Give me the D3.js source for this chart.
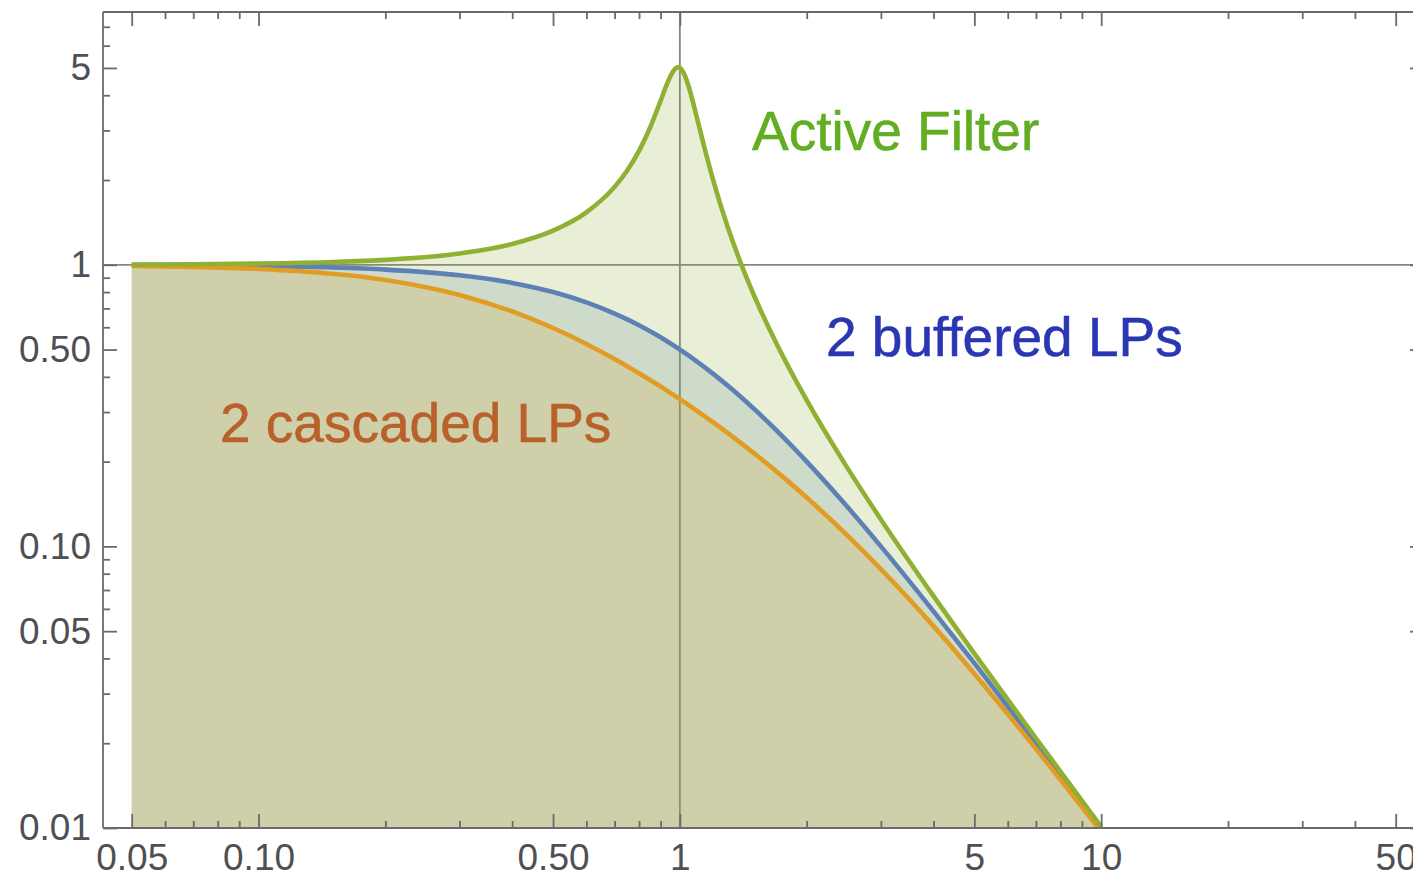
<!DOCTYPE html>
<html>
<head>
<meta charset="utf-8">
<script src="https://cdn.jsdelivr.net/npm/d3@7"></script>
<style>
  body { margin: 0; background: #fff; overflow: hidden; }
  svg { display: block; font-family: "Liberation Sans", Arial, sans-serif; }
</style>
</head>
<body>
<script>
// angular frequency (normalised) and the three gain curves
const freq = [0.05, 0.07, 0.1, 0.15, 0.2, 0.3, 0.4, 0.5, 0.6, 0.7, 0.75, 0.8, 0.85, 0.9, 0.93, 0.95,
  0.97, 0.98, 0.99, 1, 1.01, 1.02, 1.03, 1.05, 1.07, 1.1, 1.15, 1.2, 1.3, 1.4, 1.5, 1.7, 2, 2.5, 3, 4, 5, 7, 10];
const buffered = [0.9975, 0.9951, 0.9901, 0.978, 0.9615, 0.9174, 0.8621, 0.8, 0.7353, 0.6711, 0.64, 0.6098,
  0.5806, 0.5525, 0.5362, 0.5256, 0.5152, 0.5101, 0.505, 0.5, 0.495, 0.4901, 0.4852, 0.4756, 0.4662, 0.4525,
  0.4306, 0.4098, 0.3717, 0.3378, 0.3077, 0.2571, 0.2, 0.1379, 0.1, 0.0588, 0.0385, 0.02, 0.0099];
const cascaded = [0.9914, 0.9833, 0.9667, 0.9293, 0.8833, 0.7813, 0.6827, 0.5963, 0.5235, 0.4627, 0.4363, 0.4121,
  0.3899, 0.3695, 0.358, 0.3507, 0.3436, 0.3401, 0.3367, 0.3333, 0.33, 0.3268, 0.3236, 0.3173, 0.3112, 0.3024,
  0.2886, 0.2757, 0.2525, 0.2321, 0.2141, 0.1839, 0.1491, 0.1092, 0.0831, 0.0521, 0.0353, 0.0191, 0.0097];
const active = [1.0025, 1.0048, 1.0099, 1.0225, 1.0408, 1.0965, 1.1851, 1.3216, 1.5357, 1.8908, 2.1622, 2.5384,
  3.0728, 3.8208, 4.35, 4.6826, 4.931, 5.001, 5.025, 5.0, 4.926, 4.809, 4.655, 4.279, 3.869, 3.288,
  2.5245, 1.9952, 1.3562, 1.0, 0.7779, 0.5207, 0.3304, 0.1896, 0.12465, 0.06657, 0.04163, 0.02083, 0.0101];

const seriesNames = ["2 buffered LPs", "2 cascaded LPs", "Active Filter"];

// ticks
const xMajor = [0.05, 0.1, 0.5, 1, 5, 10, 50];
const xMajorLabels = ["0.05", "0.10", "0.50", "1", "5", "10", "50"];
const xMinor = [0.06, 0.07, 0.08, 0.09, 0.2, 0.3, 0.4, 0.6, 0.7, 0.8, 0.9, 2, 3, 4, 6, 7, 8, 9, 20, 30, 40];
const yMajor = [0.01, 0.05, 0.1, 0.5, 1, 5];
const yMajorLabels = ["0.01", "0.05", "0.10", "0.50", "1", "5"];
const yMinor = [0.02, 0.03, 0.04, 0.06, 0.07, 0.08, 0.09, 0.2, 0.3, 0.4, 0.6, 0.7, 0.8, 0.9, 2, 3, 4, 6, 7];

const width = 1413, height = 877;
const colors = ["#5e81b5", "#e19c24", "#8fb032"];
const labelColors = ["#2b36b3", "#b8612b", "#62ad22"];

const svg = d3.select("body").append("svg")
    .attr("width", width)
    .attr("height", height);

// frame runs 103..1424 horizontally (right edge falls off the canvas)
const frameL = 103, frameR = 1424, frameT = 12, frameB = 828;
const x = d3.scaleLog().domain([0.05, 50]).range([131.7, 1395.7]);
const y = d3.scaleLog().domain([0.01, 7.9]).range([frameB, frameT]);

svg.append("clipPath").attr("id", "plotclip")
  .append("rect")
    .attr("x", frameL).attr("y", frameT)
    .attr("width", frameR - frameL).attr("height", frameB - frameT);

const plot = svg.append("g").attr("clip-path", "url(#plotclip)");

// grid lines at 1 / 1 (under the fills)
plot.append("line")
    .attr("x1", x(1)).attr("x2", x(1))
    .attr("y1", frameT).attr("y2", frameB)
    .attr("stroke", "#868686").attr("stroke-width", 1.8);
plot.append("line")
    .attr("x1", frameL).attr("x2", frameR)
    .attr("y1", y(1)).attr("y2", y(1))
    .attr("stroke", "#868686").attr("stroke-width", 1.8);

const allSeries = [buffered, cascaded, active].map(function(vals, i) {
  return { name: seriesNames[i], color: colors[i],
           points: freq.map(function(f, j) { return [f, vals[j]]; }) };
});

const area = d3.area()
    .x(d => x(d[0]))
    .y0(y(0.01))
    .y1(d => y(d[1]))
    .curve(d3.curveMonotoneX);

const line = d3.line()
    .x(d => x(d[0]))
    .y(d => y(d[1]))
    .curve(d3.curveMonotoneX);

plot.selectAll("path.fill")
    .data(allSeries)
    .enter()
    .append("path")
    .attr("class", "fill")
    .attr("d", d => area(d.points))
    .attr("fill", d => d.color)
    .attr("fill-opacity", 0.2);

plot.selectAll("path.curve")
    .data(allSeries)
    .enter()
    .append("path")
    .attr("class", "curve")
    .attr("d", d => line(d.points))
    .attr("fill", "none")
    .attr("stroke", d => d.color)
    .attr("stroke-width", 4.6)
    .attr("stroke-linejoin", "round");

// frame with inward ticks
const frameColor = "#6b6b6b";
function styleAxis(g) {
  g.selectAll("path.domain").attr("stroke", frameColor).attr("stroke-width", 1.8);
  g.selectAll(".tick line").attr("stroke", frameColor).attr("stroke-width", 1.8);
  g.selectAll(".tick text").attr("fill", "#4f4f55").attr("font-size", 37)
    .attr("font-family", "\"Liberation Sans\", Arial, sans-serif");
}

const xMajFmt = v => xMajorLabels[xMajor.indexOf(v)];
const yMajFmt = v => yMajorLabels[yMajor.indexOf(v)];

// bottom
svg.append("g").attr("transform", `translate(0,${frameB})`)
    .call(d3.axisBottom(x).tickValues(xMinor).tickFormat("").tickSize(-7).tickSizeOuter(0))
    .call(g => g.select("path.domain").remove())
    .call(styleAxis);
svg.append("g").attr("transform", `translate(0,${frameB})`)
    .call(d3.axisBottom(x).tickValues(xMajor).tickFormat(xMajFmt).tickSize(-14).tickSizeOuter(0).tickPadding(16))
    .call(g => g.select("path.domain").attr("d", `M${frameL},0H${frameR}`))
    .call(styleAxis);

// top
svg.append("g").attr("transform", `translate(0,${frameT})`)
    .call(d3.axisTop(x).tickValues(xMinor).tickFormat("").tickSize(-7).tickSizeOuter(0))
    .call(g => g.select("path.domain").remove())
    .call(styleAxis);
svg.append("g").attr("transform", `translate(0,${frameT})`)
    .call(d3.axisTop(x).tickValues(xMajor).tickFormat("").tickSize(-14).tickSizeOuter(0))
    .call(g => g.select("path.domain").attr("d", `M${frameL},0H${frameR}`))
    .call(styleAxis);

// left
svg.append("g").attr("transform", `translate(${frameL},0)`)
    .call(d3.axisLeft(y).tickValues(yMinor).tickFormat("").tickSize(-7).tickSizeOuter(0))
    .call(g => g.select("path.domain").remove())
    .call(styleAxis);
svg.append("g").attr("transform", `translate(${frameL},0)`)
    .call(d3.axisLeft(y).tickValues(yMajor).tickFormat(yMajFmt).tickSize(-14).tickSizeOuter(0).tickPadding(12))
    .call(g => g.select("path.domain").attr("d", `M0,${frameT}V${frameB}`))
    .call(styleAxis);

// right
svg.append("g").attr("transform", `translate(${frameR},0)`)
    .call(d3.axisRight(y).tickValues(yMinor).tickFormat("").tickSize(-7).tickSizeOuter(0))
    .call(g => g.select("path.domain").remove())
    .call(styleAxis);
svg.append("g").attr("transform", `translate(${frameR},0)`)
    .call(d3.axisRight(y).tickValues(yMajor).tickFormat("").tickSize(-14).tickSizeOuter(0))
    .call(g => g.select("path.domain").attr("d", `M0,${frameT}V${frameB}`))
    .call(styleAxis);

// curve labels
const labelPos = [[826, 356], [220, 442], [752, 150]];
svg.selectAll("text.curve-label")
    .data(allSeries)
    .enter()
    .append("text")
    .attr("class", "curve-label")
    .attr("x", (d, i) => labelPos[i][0])
    .attr("y", (d, i) => labelPos[i][1])
    .attr("fill", (d, i) => labelColors[i])
    .attr("stroke", (d, i) => labelColors[i])
    .attr("stroke-width", 0.6)
    .attr("font-size", 55)
    .text(d => d.name);
</script>
</body>
</html>
